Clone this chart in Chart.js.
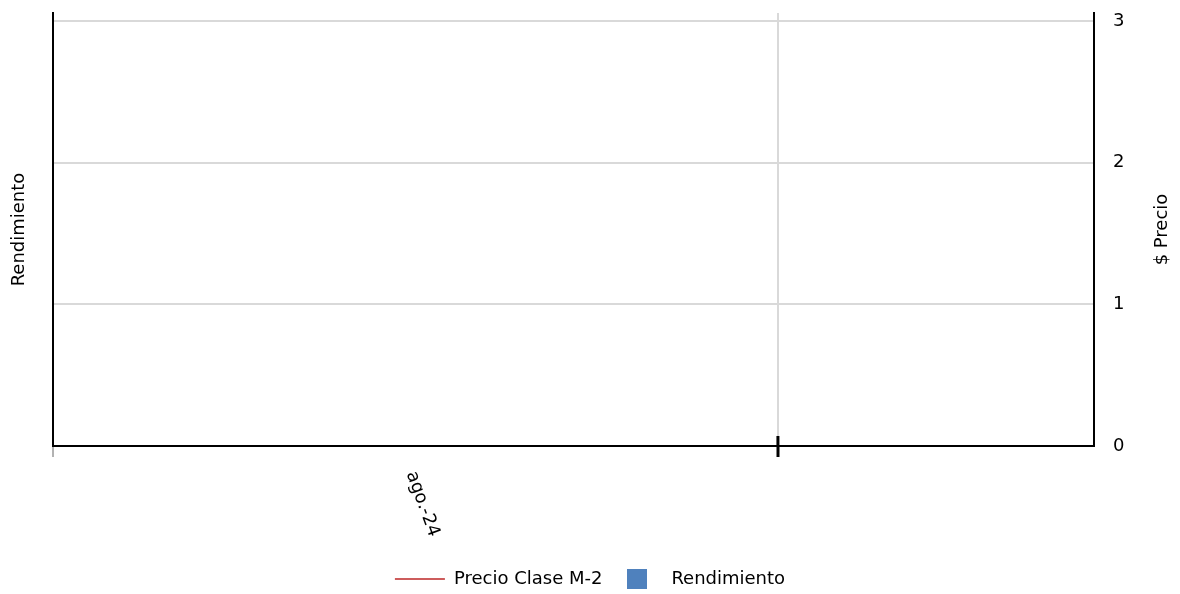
<!DOCTYPE html>
<html>
<head>
<meta charset="utf-8">
<script src="https://cdn.jsdelivr.net/npm/chart.js@4"></script>
<style>
  html, body { margin: 0; padding: 0; background: #fff; }
</style>
</head>
<body>
<canvas id="chart" width="1180" height="594"></canvas>
<script>
const categories = ["ago.-24"];
const monthEdges = [0, 1];
const precioClaseM2 = [null];
const rendimiento = [null];
const precioTicks = [0, 1, 2, 3];

const FONT = "'DejaVu Sans', Verdana, sans-serif";

// blue square used as the legend marker for the bar series
const swatch = document.createElement("canvas");
swatch.width = 20;
swatch.height = 20;
const sctx = swatch.getContext("2d");
sctx.fillStyle = "#4F81BD";
sctx.fillRect(0, 0, 20, 20);

const extras = {
  id: "extras",
  afterDraw(chart) {
    const { ctx, chartArea } = chart;
    const x = chart.scales.x;
    const y1 = chart.scales.y1;
    ctx.save();

    // part of the month tick that crosses above the axis
    ctx.fillStyle = "#000";
    monthEdges.slice(1).forEach(v => {
      const px = x.getPixelForValue(v);
      ctx.fillRect(px - 1.5, x.top - 10, 3, 10);
    });

    // category labels, turned clockwise
    ctx.font = "18px " + FONT;
    ctx.textAlign = "center";
    ctx.textBaseline = "middle";
    categories.forEach((c, i) => {
      const mid = (monthEdges[i] + monthEdges[i + 1]) / 2;
      const px = x.getPixelForValue(mid);
      ctx.save();
      ctx.translate(px + 7, x.top + 58);
      ctx.rotate(70 * Math.PI / 180);
      ctx.fillText(c, 0, 0);
      ctx.restore();
    });

    // right axis title reads upwards
    ctx.translate(y1.right - 18, (chartArea.top + chartArea.bottom) / 2);
    ctx.rotate(-Math.PI / 2);
    ctx.fillText("$ Precio", 0, 0);
    ctx.restore();
  }
};

const gridColor = c => (c.tick && c.tick.value > 0 ? "#d9d9d9" : "rgba(0,0,0,0)");

new Chart(document.getElementById("chart"), {
  type: "line",
  data: {
    datasets: [
      {
        type: "line",
        label: "Precio Clase M-2",
        data: precioClaseM2.map((v, i) => ({ x: (monthEdges[i] + monthEdges[i + 1]) / 2, y: v })),
        borderColor: "#CD5C5C",
        backgroundColor: "#CD5C5C",
        borderWidth: 2,
        pointStyle: "line",
        yAxisID: "y1"
      },
      {
        type: "bar",
        label: "Rendimiento",
        data: rendimiento.map((v, i) => ({ x: (monthEdges[i] + monthEdges[i + 1]) / 2, y: v })),
        backgroundColor: "#4F81BD",
        yAxisID: "y"
      }
    ]
  },
  options: {
    responsive: false,
    animation: false,
    layout: { padding: { top: 13, bottom: -4 } },
    scales: {
      x: {
        type: "linear",
        min: 0,
        max: 1.436,
        offset: false,
        afterBuildTicks: s => { s.ticks = monthEdges.map(v => ({ value: v })); },
        afterFit: s => { s.height = 114; s.paddingLeft = 0; s.paddingRight = 0; },
        ticks: { display: false },
        grid: {
          offset: false,
          color: gridColor,
          lineWidth: 2,
          tickLength: 11,
          tickColor: c => (c.tick.value > 0 ? "#000" : "#666"),
          tickWidth: c => (c.tick.value > 0 ? 3 : 1)
        },
        border: { color: "#000", width: 2 }
      },
      y: {
        position: "left",
        afterFit: s => { s.width = 53; s.paddingTop = 0; s.paddingBottom = 0; },
        ticks: { display: false },
        grid: { drawOnChartArea: false, drawTicks: false },
        border: { color: "#000", width: 2 },
        title: {
          display: true,
          text: "Rendimiento",
          color: "#000",
          font: { family: FONT, size: 18 },
          padding: { top: 9, bottom: 0 }
        }
      },
      y1: {
        position: "right",
        min: 0,
        max: 3.0565,
        afterBuildTicks: s => { s.ticks = precioTicks.map(v => ({ value: v })); },
        afterFit: s => { s.width = 86; s.paddingTop = 0; s.paddingBottom = 0; },
        ticks: { color: "#000", font: { family: FONT, size: 18 }, padding: 19 },
        grid: { color: gridColor, lineWidth: 2, drawTicks: false },
        border: { color: "#000", width: 2 }
      }
    },
    plugins: {
      legend: {
        position: "bottom",
        labels: {
          usePointStyle: true,
          pointStyleWidth: 50,
          color: "#000",
          font: { family: FONT, size: 18 },
          padding: 10,
          generateLabels: chart => {
            const items = Chart.defaults.plugins.legend.labels.generateLabels(chart);
            items.forEach(it => {
              if (it.text === "Rendimiento") it.pointStyle = swatch;
            });
            return items;
          }
        }
      },
      tooltip: { enabled: false }
    }
  },
  plugins: [extras]
});
</script>
</body>
</html>
